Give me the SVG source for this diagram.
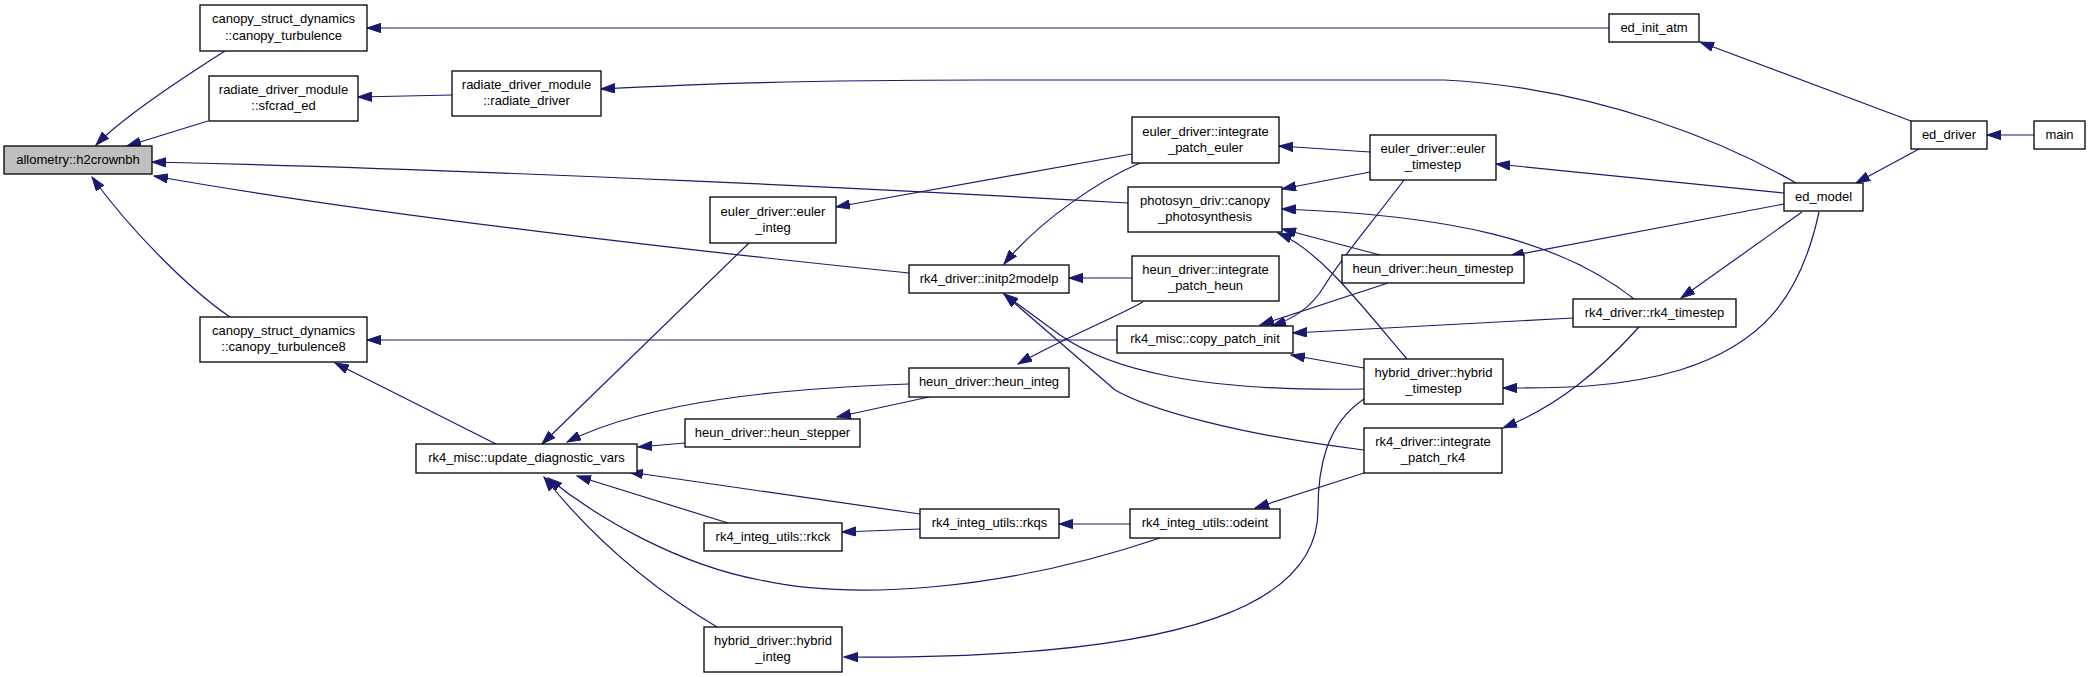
<svg xmlns="http://www.w3.org/2000/svg" width="2091" height="677" viewBox="0 0 2091 677">
<style>
.n rect{fill:#ffffff;stroke:#000000;stroke-width:1.3}
.n text{font-family:"Liberation Sans",Arial,Helvetica,sans-serif;font-size:13px;fill:#000000;text-anchor:middle}
#allometry rect{fill:#bfbfbf}
#edges path{fill:none;stroke:#191970;stroke-width:1.2;marker-end:url(#arr)}
</style>
<defs>
<marker id="arr" markerWidth="15" markerHeight="10" refX="14" refY="5" orient="auto" markerUnits="userSpaceOnUse">
<path d="M0,0.3 L14,5 L0,9.7 Z" fill="#191970" stroke="#191970" stroke-width="1"/>
</marker>
</defs>
<rect width="2091" height="677" fill="#ffffff"/>
<g id="edges">
<path d="M225,51 C195,70 125,115 96,145"/>
<path d="M208,121 L127,146"/>
<path d="M1609,28 L367,28"/>
<path d="M452,95 L358,97"/>
<path d="M1796,183 C1730,145 1600,88 1444,80 L985,80 C800,80 700,84 601,89"/>
<path d="M1128,203 C900,190 500,170 152,162"/>
<path d="M909,273 C800,262 400,220 154,176"/>
<path d="M230,317 C190,290 130,230 92,177"/>
<path d="M1117,340 L367,340"/>
<path d="M496,444 L335,363"/>
<path d="M749,243 L542,444"/>
<path d="M909,384 C790,388 650,400 567,442"/>
<path d="M685,443 L638,447"/>
<path d="M920,514 L629,472"/>
<path d="M728,523 L577,476"/>
<path d="M1160,538 C1000,592 850,600 760,580 C680,565 600,520 548,478"/>
<path d="M717,627 C680,605 610,560 544,477"/>
<path d="M1132,154 L836,207"/>
<path d="M1370,152 L1279,146"/>
<path d="M1140,163 C1100,180 1040,220 1004,264"/>
<path d="M1132,278 L1069,278"/>
<path d="M1364,389 C1200,392 1110,370 1060,335 L1004,294"/>
<path d="M1364,450 C1240,435 1150,410 1115,390 L1004,294"/>
<path d="M1370,172 L1282,189"/>
<path d="M1380,255 L1282,229"/>
<path d="M1634,299 C1560,240 1450,215 1282,209"/>
<path d="M1407,359 C1365,310 1320,250 1278,233"/>
<path d="M1143,302 C1110,320 1060,340 1018,364"/>
<path d="M929,397 L837,417"/>
<path d="M1404,180 C1370,225 1340,260 1325,285 C1310,310 1290,320 1272,326"/>
<path d="M1388,283 L1260,325"/>
<path d="M1573,318 L1293,333"/>
<path d="M1364,368 L1291,355"/>
<path d="M1784,193 L1496,164"/>
<path d="M1784,204 L1510,256"/>
<path d="M1802,212 L1681,298"/>
<path d="M1819,212 C1800,300 1760,345 1680,370 C1620,388 1560,388 1503,388"/>
<path d="M1639,327 C1600,370 1560,405 1503,428"/>
<path d="M1911,121 L1700,42"/>
<path d="M1919,149 L1856,183"/>
<path d="M2034,135 L1987,135"/>
<path d="M1364,473 L1255,508"/>
<path d="M1130,524 L1059,524"/>
<path d="M920,529 L842,532"/>
<path d="M1364,399 C1325,425 1318,470 1318,510 C1318,600 1200,660 844,657"/>
</g>
<g id="allometry" class="n"><rect x="4" y="146" width="148" height="28"/><text x="78" y="163.5">allometry::h2crownbh</text></g>
<g id="canopy_turbulence" class="n"><rect x="200" y="5" width="167" height="46"/><text x="283.5" y="23.3">canopy_struct_dynamics</text><text x="283.5" y="39.5">::canopy_turbulence</text></g>
<g id="sfcrad_ed" class="n"><rect x="209" y="76" width="149" height="45"/><text x="283.5" y="94">radiate_driver_module</text><text x="283.5" y="110">::sfcrad_ed</text></g>
<g id="radiate_driver" class="n"><rect x="452" y="71" width="149" height="45"/><text x="526.5" y="89">radiate_driver_module</text><text x="526.5" y="105">::radiate_driver</text></g>
<g id="canopy_turbulence8" class="n"><rect x="200" y="317" width="167" height="45"/><text x="283.5" y="335">canopy_struct_dynamics</text><text x="283.5" y="351">::canopy_turbulence8</text></g>
<g id="update_diagnostic_vars" class="n"><rect x="416" y="444" width="221" height="29"/><text x="526.5" y="462">rk4_misc::update_diagnostic_vars</text></g>
<g id="euler_integ" class="n"><rect x="710" y="197" width="126" height="46"/><text x="773" y="215.5">euler_driver::euler</text><text x="773" y="231.5">_integ</text></g>
<g id="heun_stepper" class="n"><rect x="685" y="419" width="175" height="28"/><text x="772.5" y="436.5">heun_driver::heun_stepper</text></g>
<g id="rkck" class="n"><rect x="704" y="523" width="138" height="28"/><text x="773" y="540.5">rk4_integ_utils::rkck</text></g>
<g id="hybrid_integ" class="n"><rect x="704" y="627" width="138" height="45"/><text x="773" y="645">hybrid_driver::hybrid</text><text x="773" y="661">_integ</text></g>
<g id="initp2modelp" class="n"><rect x="909" y="265" width="160" height="28"/><text x="989" y="282.5">rk4_driver::initp2modelp</text></g>
<g id="heun_integ" class="n"><rect x="909" y="368" width="160" height="29"/><text x="989" y="386">heun_driver::heun_integ</text></g>
<g id="rkqs" class="n"><rect x="920" y="509" width="139" height="29"/><text x="989.5" y="527">rk4_integ_utils::rkqs</text></g>
<g id="integrate_patch_euler" class="n"><rect x="1132" y="117" width="147" height="46"/><text x="1205.5" y="135.5">euler_driver::integrate</text><text x="1205.5" y="151.5">_patch_euler</text></g>
<g id="canopy_photosynthesis" class="n"><rect x="1128" y="187" width="154" height="45"/><text x="1205" y="205">photosyn_driv::canopy</text><text x="1205" y="221">_photosynthesis</text></g>
<g id="integrate_patch_heun" class="n"><rect x="1132" y="256" width="147" height="45"/><text x="1205.5" y="274">heun_driver::integrate</text><text x="1205.5" y="290">_patch_heun</text></g>
<g id="copy_patch_init" class="n"><rect x="1117" y="326" width="176" height="27"/><text x="1205" y="343">rk4_misc::copy_patch_init</text></g>
<g id="odeint" class="n"><rect x="1130" y="509" width="150" height="29"/><text x="1205" y="527">rk4_integ_utils::odeint</text></g>
<g id="euler_timestep" class="n"><rect x="1370" y="135" width="126" height="45"/><text x="1433" y="153">euler_driver::euler</text><text x="1433" y="169">_timestep</text></g>
<g id="heun_timestep" class="n"><rect x="1342" y="255" width="182" height="28"/><text x="1433" y="272.5">heun_driver::heun_timestep</text></g>
<g id="hybrid_timestep" class="n"><rect x="1364" y="359" width="139" height="45"/><text x="1433.5" y="377">hybrid_driver::hybrid</text><text x="1433.5" y="393">_timestep</text></g>
<g id="integrate_patch_rk4" class="n"><rect x="1364" y="428" width="138" height="45"/><text x="1433" y="446">rk4_driver::integrate</text><text x="1433" y="462">_patch_rk4</text></g>
<g id="ed_init_atm" class="n"><rect x="1609" y="14" width="90" height="28"/><text x="1654" y="31.5">ed_init_atm</text></g>
<g id="rk4_timestep" class="n"><rect x="1573" y="299" width="163" height="28"/><text x="1654.5" y="316.5">rk4_driver::rk4_timestep</text></g>
<g id="ed_model" class="n"><rect x="1784" y="183" width="79" height="28"/><text x="1823.5" y="200.5">ed_model</text></g>
<g id="ed_driver" class="n"><rect x="1911" y="121" width="76" height="28"/><text x="1949" y="138.5">ed_driver</text></g>
<g id="main" class="n"><rect x="2034" y="121" width="51" height="28"/><text x="2059.5" y="138.5">main</text></g>
</svg>
